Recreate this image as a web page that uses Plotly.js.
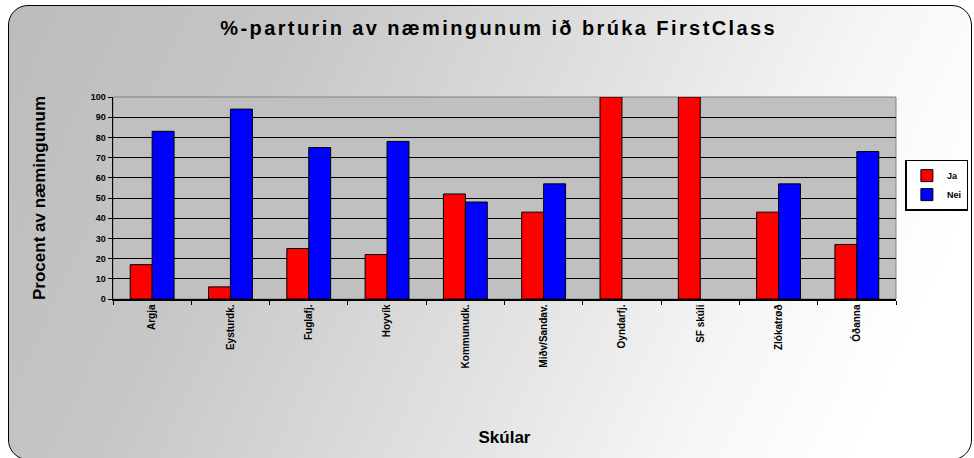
<!DOCTYPE html>
<html>
<head>
<meta charset="utf-8">
<script src="https://cdn.plot.ly/plotly-3.0.1.min.js"></script>
<style>
  html, body { margin: 0; padding: 0; background: #ffffff; }
  #wrap { position: relative; width: 974px; height: 458px; overflow: hidden; background: #ffffff; }
  #bg { position: absolute; left: 8px; top: 5px; width: 964px; height: 455px;
        border: 1.5px solid #000; border-radius: 20px; box-sizing: border-box;
        background: linear-gradient(115deg, #bcbcbc 0%, #c6c6c6 25%, #e2e2e2 55%, #f6f6f6 75%, #ffffff 90%); }
  #chart { position: absolute; left: 0; top: 0; width: 974px; height: 458px; }
  .gtitle { letter-spacing: 2.4px; }
</style>
</head>
<body>
<div id="wrap">
  <div id="bg"></div>
  <div id="chart"></div>
</div>
<script>
const categories = ["Argja", "Eysturdk.", "Fuglafj.", "Hoyvík", "Kommunudk.", "Miðv/Sandav.", "Oyndarfj.", "SF skúli", "Zlókatrøð", "Óðanna"];
const jaValues  = [17, 6, 25, 22, 52, 43, 100, 100, 43, 27];
const neiValues = [83, 94, 75, 78, 48, 57, 0, 0, 57, 73];
const seriesNames = ["Ja", "Nei"];
const yTicks = [0, 10, 20, 30, 40, 50, 60, 70, 80, 90, 100];

const font = "Liberation Sans, Arial, sans-serif";
const outline = vals => vals.map(v => (v === 0 ? 0 : 1));

const traces = [
  { type: "bar", name: seriesNames[0], x: categories, y: jaValues,
    marker: { color: "#ff0000", line: { color: "#000000", width: outline(jaValues) } } },
  { type: "bar", name: seriesNames[1], x: categories, y: neiValues,
    marker: { color: "#0000ff", line: { color: "#000000", width: outline(neiValues) } } }
];

const layout = {
  width: 974, height: 458,
  margin: { l: 113, r: 78, t: 97, b: 159, pad: 0, autoexpand: false },
  paper_bgcolor: "rgba(0,0,0,0)",
  plot_bgcolor: "#c0c0c0",
  barmode: "group",
  bargap: 0.44,
  bargroupgap: 0,
  showlegend: true,
  title: {
    text: "<b>%-parturin av næmingunum ið brúka FirstClass</b>",
    font: { family: font, size: 20, color: "#000" },
    x: 0.512, xanchor: "center", y: 0.939, yanchor: "middle", yref: "container"
  },
  xaxis: {
    type: "category",
    tickangle: -90,
    tickfont: { family: font, size: 10, color: "#000", weight: "bold" },
    ticks: "outside", ticklen: 4, tickcolor: "#000", tickwidth: 1,
    tickson: "boundaries",
    showline: true, linecolor: "#000", linewidth: 1.5,
    showgrid: false,
    title: { text: "<b>Skúlar</b>", font: { family: font, size: 17, color: "#000" }, standoff: 63 },
    automargin: false
  },
  yaxis: {
    range: [0, 100],
    tickvals: yTicks,
    tickfont: { family: font, size: 9, color: "#000", weight: "bold" },
    ticks: "outside", ticklen: 4, tickcolor: "#000", tickwidth: 1,
    showline: true, linecolor: "#000", linewidth: 1.5,
    showgrid: true, gridcolor: "#000", gridwidth: 1,
    zeroline: false,
    title: { text: "<b>Procent av næmingunum</b>", font: { family: font, size: 17, color: "#000" }, standoff: 40 },
    automargin: false
  },
  legend: {
    x: 1.012, xanchor: "left", y: 0.69, yanchor: "top",
    bgcolor: "#ffffff", bordercolor: "#000", borderwidth: 1.5,
    font: { family: font, size: 9, color: "#000", weight: "bold" },
    itemwidth: 30, tracegroupgap: 2
  },
  shapes: [
    { type: "rect", xref: "paper", yref: "paper", x0: 0, x1: 1, y0: 0, y1: 1,
      line: { color: "#808080", width: 1 }, fillcolor: "rgba(0,0,0,0)", layer: "below" }
  ]
};

Plotly.newPlot("chart", traces, layout, { displayModeBar: false, staticPlot: true });
</script>
</body>
</html>
